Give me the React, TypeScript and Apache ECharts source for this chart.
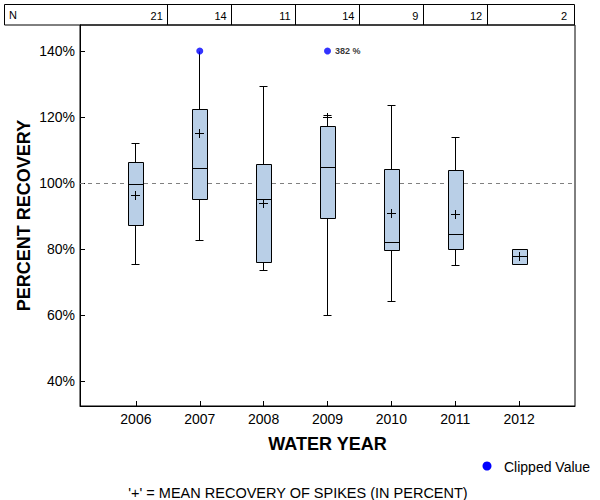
import React, { useEffect, useRef } from "react";
import * as echarts from "echarts";

// ---- data ----
const years = [2006, 2007, 2008, 2009, 2010, 2011, 2012];
const counts = [21, 14, 11, 14, 9, 12, 2];
const whiskerLow = [75.4, 82.6, 73.6, 59.9, 64.1, 75.1, 75.4];
const quartile1 = [87.2, 95.1, 76.0, 89.3, 79.6, 79.9, 75.4];
const medians = [99.6, 104.5, 95.1, 104.8, 82.0, 84.5, 77.6];
const quartile3 = [106.3, 122.3, 105.7, 117.2, 104.1, 103.8, 79.9];
const whiskerHigh = [112.0, 140.0, 129.2, 120.6, 123.5, 113.8, 79.9];
const means = [96.2, 115.0, 93.7, 119.9, 90.7, 90.5, 77.6];
const clippedYears = [2007, 2009];
const clippedActual: (number | null)[] = [null, 382];
const clipLimit = 140;
const yTicks = [40, 60, 80, 100, 120, 140];
const referenceValue = 100;

const xMin = 2005.125;
const xMax = 2012.875;
const yMin = 32.42;
const yMax = 147.88;

const FONT = '"Liberation Sans", Arial, Helvetica, sans-serif';

const crisp = (v: number) => Math.round(v - 0.5) + 0.5;

export default function App() {
  const ref = useRef<HTMLDivElement>(null);

  useEffect(() => {
    if (!ref.current) return;
    const chart = echarts.init(ref.current, undefined, { renderer: "svg" });

    const boxData = years.map((y, i) => [
      y,
      whiskerLow[i],
      quartile1[i],
      medians[i],
      quartile3[i],
      whiskerHigh[i],
      means[i],
    ]);

    const tableData = years.map((y, i) => [y, counts[i]]);

    const clippedData = clippedYears.map((y, i) => {
      const actual = clippedActual[i];
      const item: any = { value: [y, clipLimit] };
      if (actual != null) {
        item.label = {
          show: true,
          position: "right",
          distance: 4,
          formatter: `${actual} %`,
          fontSize: 9,
          fontWeight: "bold",
          color: "#000",
          fontFamily: FONT,
        };
      }
      return item;
    });

    const line = (x1: number, y1: number, x2: number, y2: number) => ({
      type: "line",
      shape: { x1, y1, x2, y2 },
      style: { stroke: "#000", lineWidth: 1 },
    });

    const option: any = {
      animation: false,
      textStyle: { fontFamily: FONT, color: "#000" },
      grid: [
        {
          left: 80,
          top: 25,
          width: 495,
          height: 381,
          containLabel: false,
          outerBoundsMode: "none",
          show: true,
          borderColor: "#000",
          borderWidth: 1,
          backgroundColor: "transparent",
        },
        {
          left: 80,
          top: 4,
          width: 495,
          height: 21,
          containLabel: false,
          outerBoundsMode: "none",
        },
      ],
      xAxis: [
        {
          type: "value",
          gridIndex: 0,
          min: xMin,
          max: xMax,
          axisLine: { show: true, onZero: false, lineStyle: { color: "#000", width: 1 } },
          axisTick: {
            show: true,
            inside: true,
            length: 5,
            customValues: years,
            lineStyle: { color: "#000" },
          },
          axisLabel: {
            customValues: years,
            color: "#000",
            fontSize: 14,
            margin: 6,
            fontFamily: FONT,
            formatter: (v: number) => String(Math.round(v)),
          },
          splitLine: { show: false },
          name: "WATER YEAR",
          nameLocation: "middle",
          nameGap: 29,
          nameMoveOverlap: false,
          nameTextStyle: {
            fontWeight: "bold",
            fontSize: 18,
            color: "#000",
            fontFamily: FONT,
            verticalAlign: "top",
          },
        },
        { type: "value", gridIndex: 1, min: xMin, max: xMax, show: false },
      ],
      yAxis: [
        {
          type: "value",
          gridIndex: 0,
          min: yMin,
          max: yMax,
          axisLine: { show: true, onZero: false, lineStyle: { color: "#000", width: 1 } },
          axisTick: {
            show: true,
            inside: true,
            length: 5,
            customValues: yTicks,
            lineStyle: { color: "#000" },
          },
          axisLabel: {
            customValues: yTicks,
            color: "#000",
            fontSize: 14,
            margin: 5,
            fontFamily: FONT,
            formatter: (v: number) => `${Math.round(v)}%`,
          },
          splitLine: { show: false },
          name: "PERCENT RECOVERY",
          nameLocation: "middle",
          nameGap: 47,
          nameRotate: 90,
          nameMoveOverlap: false,
          nameTextStyle: {
            fontWeight: "bold",
            fontSize: 18,
            color: "#000",
            fontFamily: FONT,
          },
        },
        { type: "value", gridIndex: 1, min: 0, max: 1, show: false },
      ],
      series: [
        {
          type: "custom",
          name: "boxes",
          xAxisIndex: 0,
          yAxisIndex: 0,
          z: 2,
          data: boxData,
          encode: { x: 0, y: [1, 2, 3, 4, 5, 6] },
          renderItem: (params: any, api: any) => {
            const x = api.value(0);
            const pLow = api.coord([x, api.value(1)]);
            const pQ1 = api.coord([x, api.value(2)]);
            const pMed = api.coord([x, api.value(3)]);
            const pQ3 = api.coord([x, api.value(4)]);
            const pHigh = api.coord([x, api.value(5)]);
            const pMean = api.coord([x, api.value(6)]);
            const cx = crisp(pMed[0]);
            const halfBox = 7.5;
            const halfCap = 4;
            const halfCross = 4.5;
            const left = Math.round(cx - halfBox) + 0.5;
            const right = left + 15;
            const yQ3 = crisp(pQ3[1]);
            const yQ1 = crisp(pQ1[1]);
            const children: any[] = [];
            if (api.value(5) > api.value(4)) {
              children.push(line(cx, crisp(pHigh[1]), cx, yQ3));
              if (api.value(5) < clipLimit) {
                children.push(line(cx - halfCap, crisp(pHigh[1]), cx + halfCap, crisp(pHigh[1])));
              }
            }
            if (api.value(1) < api.value(2)) {
              children.push(line(cx, yQ1, cx, crisp(pLow[1])));
              children.push(line(cx - halfCap, crisp(pLow[1]), cx + halfCap, crisp(pLow[1])));
            }
            children.push({
              type: "rect",
              shape: { x: left, y: yQ3, width: right - left, height: yQ1 - yQ3 },
              style: { fill: "#B9CFE7", stroke: "#000", lineWidth: 1 },
            });
            const yMed = crisp(pMed[1]);
            children.push(line(left, yMed, right, yMed));
            const yMean = crisp(pMean[1]);
            children.push(line(cx - halfCross, yMean, cx + halfCross, yMean));
            children.push(line(cx, yMean - halfCross, cx, yMean + halfCross));
            return { type: "group", children };
          },
          markLine: {
            silent: true,
            symbol: "none",
            z: 1,
            label: { show: false },
            lineStyle: { type: [4, 4], color: "#808080", width: 1 },
            data: [{ yAxis: referenceValue }],
          },
        },
        {
          type: "scatter",
          name: "Clipped Value",
          xAxisIndex: 0,
          yAxisIndex: 0,
          z: 5,
          symbol: "circle",
          symbolSize: 7,
          itemStyle: { color: "#0000FF" },
          data: clippedData,
        },
        {
          type: "custom",
          name: "table",
          xAxisIndex: 1,
          yAxisIndex: 1,
          data: tableData,
          renderItem: (params: any, api: any) => {
            const i = params.dataIndex;
            const yr = api.value(0);
            const last = i === years.length - 1;
            const pr = api.coord([last ? xMax : yr + 0.5, 0]);
            const pt = api.coord([yr, 1]);
            const children: any[] = [];
            if (!last) {
              const sx = crisp(pr[0]);
              children.push(line(sx, pt[1], sx, pr[1]));
            }
            children.push({
              type: "text",
              style: {
                text: String(api.value(1)),
                x: pr[0] - (last ? 8 : 5),
                y: (pt[1] + pr[1]) / 2 + 1,
                align: "right",
                verticalAlign: "middle",
                fill: "#000",
                font: `11px ${FONT}`,
              },
            });
            return { type: "group", children };
          },
        },
      ],
      graphic: [
        {
          type: "rect",
          shape: { x: 4.5, y: 4.5, width: 570, height: 20.5 },
          style: { fill: "none", stroke: "#000", lineWidth: 1 },
          z: 10,
          silent: true,
        },
        {
          type: "text",
          x: 9,
          y: 15,
          style: {
            text: "N",
            font: `11px ${FONT}`,
            fill: "#000",
            verticalAlign: "middle",
          },
        },
        {
          type: "circle",
          shape: { cx: 487, cy: 466, r: 4.5 },
          style: { fill: "#0000FF" },
        },
        {
          type: "text",
          x: 504,
          y: 467,
          style: {
            text: "Clipped Value",
            font: `14px ${FONT}`,
            fill: "#000",
            verticalAlign: "middle",
          },
        },
        {
          type: "text",
          x: 298,
          y: 493,
          style: {
            text: "'+' = MEAN RECOVERY OF SPIKES (IN PERCENT)",
            font: `14.5px ${FONT}`,
            fill: "#000",
            align: "center",
            verticalAlign: "middle",
          },
        },
      ],
    };

    chart.setOption(option);
    return () => chart.dispose();
  }, []);

  return (
    <div
      ref={ref}
      style={{ position: "fixed", left: 0, top: 0, width: 600, height: 500, background: "#fff" }}
    />
  );
}
